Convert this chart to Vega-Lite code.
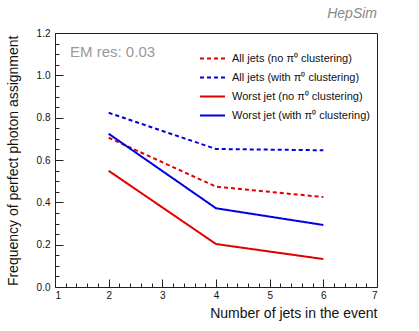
{
  "$schema": "https://vega.github.io/schema/vega-lite/v6.json",
  "width": 322,
  "height": 254,
  "autosize": "none",
  "padding": {"left": 55, "top": 33, "right": 42, "bottom": 44},
  "title": {"text": "HepSim", "anchor": "end", "frame": "group", "font": "Liberation Sans", "fontStyle": "italic", "fontWeight": "normal", "fontSize": 14, "color": "#888888", "offset": 7},
  "config": {
    "font": "Liberation Sans",
    "view": {"stroke": "#222222", "strokeWidth": 1},
    "axis": {"grid": false, "domainColor": "#222222", "tickColor": "#222222", "labelColor": "#111111", "labelFont": "Liberation Sans", "labelFontSize": 10, "titleFont": "Liberation Sans", "titleFontWeight": "normal", "titleFontSize": 14, "titleColor": "#111111"}
  },
  "datasets": {
    "curves": [
      {"series": "All jets (no π⁰ clustering)", "jets": 2, "freq": 0.705},
      {"series": "All jets (no π⁰ clustering)", "jets": 4, "freq": 0.474},
      {"series": "All jets (no π⁰ clustering)", "jets": 6, "freq": 0.425},
      {"series": "All jets (with π⁰ clustering)", "jets": 2, "freq": 0.823},
      {"series": "All jets (with π⁰ clustering)", "jets": 4, "freq": 0.652},
      {"series": "All jets (with π⁰ clustering)", "jets": 6, "freq": 0.646},
      {"series": "Worst jet (no π⁰ clustering)", "jets": 2, "freq": 0.549},
      {"series": "Worst jet (no π⁰ clustering)", "jets": 4, "freq": 0.203},
      {"series": "Worst jet (no π⁰ clustering)", "jets": 6, "freq": 0.132},
      {"series": "Worst jet (with π⁰ clustering)", "jets": 2, "freq": 0.724},
      {"series": "Worst jet (with π⁰ clustering)", "jets": 4, "freq": 0.372},
      {"series": "Worst jet (with π⁰ clustering)", "jets": 6, "freq": 0.293}
    ],
    "notes": [
      {"note": "EM res: 0.03"}
    ]
  },
  "data": {"name": "curves"},
  "resolve": {"axis": {"x": "independent", "y": "independent"}},
  "layer": [
    {
      "mark": {"type": "line", "strokeWidth": 2},
      "encoding": {
        "x": {"field": "jets", "type": "quantitative", "scale": {"domain": [1, 7], "nice": false, "zero": false},
              "axis": {"orient": "bottom", "values": [1, 2, 3, 4, 5, 6, 7], "ticks": false, "labelPadding": 3, "title": "Number of jets in the event", "titleAnchor": "end", "titleAlign": "right", "titleX": 322, "titleY": 30, "titleBaseline": "alphabetic"}},
        "y": {"field": "freq", "type": "quantitative", "scale": {"domain": [0, 1.2], "nice": false},
              "axis": {"orient": "left", "values": [0, 0.2, 0.4, 0.6, 0.8, 1, 1.2], "ticks": false, "labelPadding": 5, "title": "Frequency of perfect photon assignment", "titleAngle": -90, "titleAlign": "right", "titleX": -38, "titleY": 2, "titleBaseline": "alphabetic"}},
        "color": {"field": "series", "type": "nominal",
                  "scale": {"domain": ["All jets (no π⁰ clustering)", "All jets (with π⁰ clustering)", "Worst jet (no π⁰ clustering)", "Worst jet (with π⁰ clustering)"], "range": ["#e00000", "#0000e0", "#e00000", "#0000e0"]},
                  "legend": {"orient": "none", "legendX": 144, "legendY": 12, "title": null, "symbolType": "stroke", "symbolSize": 625, "symbolStrokeWidth": 2, "labelFontSize": 11, "labelFont": "Liberation Sans", "labelColor": "#111111", "labelOffset": 6, "rowPadding": -7}},
        "strokeDash": {"field": "series", "type": "nominal",
                  "scale": {"domain": ["All jets (no π⁰ clustering)", "All jets (with π⁰ clustering)", "Worst jet (no π⁰ clustering)", "Worst jet (with π⁰ clustering)"], "range": [[4, 3], [4, 3], [1, 0], [1, 0]]},
                  "legend": {"orient": "none", "legendX": 144, "legendY": 12, "title": null, "symbolType": "stroke", "symbolSize": 625, "symbolStrokeWidth": 2, "labelFontSize": 11, "labelFont": "Liberation Sans", "labelColor": "#111111", "labelOffset": 6, "rowPadding": -7}}
      }
    },
    {
      "data": {"name": "notes"},
      "mark": {"type": "text", "align": "left", "baseline": "alphabetic", "fontSize": 15, "color": "#999999", "font": "Liberation Sans"},
      "encoding": {
        "x": {"datum": 1.28, "type": "quantitative", "axis": null},
        "y": {"datum": 1.085, "type": "quantitative", "axis": null},
        "text": {"field": "note"}
      }
    },
    {
      "mark": {"type": "point", "opacity": 0},
      "encoding": {
        "x": {"field": "jets", "type": "quantitative", "axis": {"orient": "bottom", "values": [2, 3, 4, 5, 6], "labels": false, "domain": false, "title": null, "tickSize": -8}},
        "y": {"field": "freq", "type": "quantitative", "axis": {"orient": "left", "values": [0.2, 0.4, 0.6, 0.8, 1.0], "labels": false, "domain": false, "title": null, "tickSize": -8}}
      }
    },
    {
      "mark": {"type": "point", "opacity": 0},
      "encoding": {
        "x": {"field": "jets", "type": "quantitative", "axis": {"orient": "bottom", "values": [1.2, 1.4, 1.6, 1.8, 2.2, 2.4, 2.6, 2.8, 3.2, 3.4, 3.6, 3.8, 4.2, 4.4, 4.6, 4.8, 5.2, 5.4, 5.6, 5.8, 6.2, 6.4, 6.6, 6.8], "labels": false, "domain": false, "title": null, "tickSize": -4}},
        "y": {"field": "freq", "type": "quantitative", "axis": {"orient": "left", "values": [0.05, 0.1, 0.15, 0.25, 0.3, 0.35, 0.45, 0.5, 0.55, 0.65, 0.7, 0.75, 0.85, 0.9, 0.95, 1.05, 1.1, 1.15], "labels": false, "domain": false, "title": null, "tickSize": -4}}
      }
    }
  ]
}
